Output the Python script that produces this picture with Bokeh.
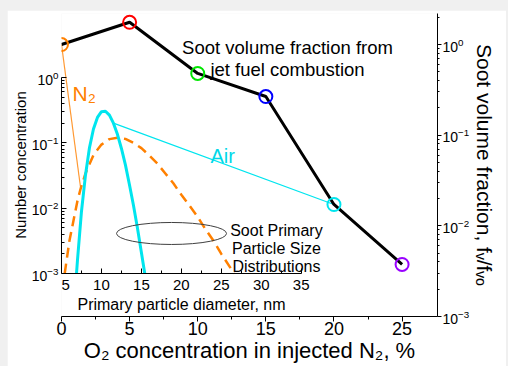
import math
from bokeh.plotting import figure
from bokeh.models import (Range1d, LogScale, LinearAxis, LogAxis, FixedTicker,
                          LogTickFormatter)
from bokeh.layouts import column
from bokeh.core.properties import value
from bokeh.embed import file_html
from bokeh.resources import INLINE

FONT = "Liberation Sans"

# ---- main series: soot volume fraction vs O2 concentration ----
o2_pct = [0, 5, 10, 15, 20, 25]
fv_ratio = [1.0, 1.76, 0.48, 0.267, 0.0172, 0.00375]
point_colors = ["#ff8000", "#ff0000", "#00e600", "#0000ff", "#00e5ee", "#9900ff"]

# ---- inset series: primary particle size distributions ----
air_d = [6.88, 7.0, 7.5, 8.0, 8.5, 9.0, 9.5, 10.0, 10.5, 11.0, 11.5, 12.0,
         12.5, 13.0, 13.5, 14.0, 14.5, 15.0, 15.42]
air_n = [0.001, 0.0016, 0.0089, 0.032, 0.084, 0.163, 0.245, 0.30, 0.305, 0.265,
         0.20, 0.135, 0.082, 0.046, 0.023, 0.0112, 0.0050, 0.0021, 0.001]
n2_d = [5.4, 6, 7, 7.4, 8, 9, 10, 11, 12, 13, 14, 15, 16, 17, 18, 19, 20, 21,
        22, 23, 24, 25, 26, 26.6]
n2_n = [0.001, 0.0032, 0.013, 0.020, 0.034, 0.065, 0.094, 0.114, 0.120, 0.115,
        0.100, 0.083, 0.064, 0.048, 0.034, 0.024, 0.016, 0.011, 0.0075, 0.0048,
        0.0032, 0.0020, 0.0013, 0.001]

# ---- ticks ----
main_x_ticks = [0, 5, 10, 15, 20, 25]
main_x_minor = [2.5, 7.5, 12.5, 17.5, 22.5]
decades = [1e-3, 1e-2, 1e-1, 1e0]
inset_x_ticks = [5, 10, 15, 20, 25, 30, 35]
inset_x_minor = [7.5, 12.5, 17.5, 22.5, 27.5, 32.5]

# ---- ranges (main frame and the inset mapped onto the same frame) ----
MX = (0.0, 27.6)
MY = (1e-3, 2.2)
IX = (5.0, 52.06)
IY = (10 ** -3.658, 10 ** 0.9796)


def inset_to_main(xi, yi):
    fx = (xi - IX[0]) / (IX[1] - IX[0])
    ly0, ly1 = math.log10(IY[0]), math.log10(IY[1])
    fy = (math.log10(yi) - ly0) / (ly1 - ly0)
    my0, my1 = math.log10(MY[0]), math.log10(MY[1])
    return MX[0] + fx * (MX[1] - MX[0]), 10 ** (my0 + fy * (my1 - my0))


p = figure(width=499, height=356, output_backend="svg", toolbar_location=None,
           x_range=Range1d(*MX), y_range=Range1d(*MY), y_axis_type="log",
           x_axis_location=None, y_axis_location=None,
           min_border_left=54, min_border_right=69, min_border_top=3,
           min_border_bottom=50)
p.margin = (10, 2, 0, 7)
p.grid.grid_line_color = None
p.outline_line_color = None
p.background_fill_color = "white"
p.border_fill_color = "white"

p.extra_x_ranges = {"ix": Range1d(*IX)}
p.extra_y_ranges = {"iy": Range1d(*IY)}
p.extra_y_scales = {"iy": LogScale()}


def log_minors(lo, hi):
    out = []
    for k in range(-4, 2):
        for m in range(2, 10):
            v = m * 10 ** k
            if lo < v < hi:
                out.append(v)
    return out


def style_axis(ax, tick_size, label_size):
    ax.axis_line_color = "black"
    ax.major_tick_line_color = "black"
    ax.minor_tick_line_color = "black"
    ax.major_label_text_font = FONT
    ax.major_label_text_font_size = tick_size
    ax.major_label_text_color = "black"
    ax.axis_label_text_font = FONT
    ax.axis_label_text_font_size = label_size
    ax.axis_label_text_font_style = "normal"
    ax.axis_label_text_color = "black"


# main x axis (bottom panel)
ax_main_x = LinearAxis(ticker=FixedTicker(ticks=main_x_ticks, minor_ticks=main_x_minor),
                       axis_label="O\u2082 concentration in injected N\u2082, %")
style_axis(ax_main_x, "18px", "22px")
ax_main_x.major_tick_out = 5
ax_main_x.major_tick_in = 0
ax_main_x.minor_tick_out = 3
ax_main_x.minor_tick_in = 0
ax_main_x.major_label_standoff = 0
ax_main_x.axis_label_standoff = 0
p.add_layout(ax_main_x, "below")

# main right axis
ax_main_y = LogAxis(ticker=FixedTicker(ticks=decades, minor_ticks=log_minors(*MY)),
                    formatter=LogTickFormatter(),
                    axis_label="Soot volume fraction, f\u1d65/f\u1d65\u2092")
style_axis(ax_main_y, "14px", "21px")
ax_main_y.major_tick_out = 4
ax_main_y.major_tick_in = 0
ax_main_y.minor_tick_out = 2
ax_main_y.minor_tick_in = 0
ax_main_y.major_label_standoff = 1
ax_main_y.axis_label_standoff = 1
p.add_layout(ax_main_y, "right")

# inset left axis (left panel, sits on the frame's left edge)
ax_in_y = LogAxis(x_range_name="ix", y_range_name="iy",
                  ticker=FixedTicker(ticks=decades, minor_ticks=log_minors(1e-3, 1.0)),
                  formatter=LogTickFormatter(), axis_label="Number concentration",
                  bounds=(1e-3, 1.0))
style_axis(ax_in_y, "14px", "15px")
ax_in_y.major_tick_in = 5
ax_in_y.major_tick_out = 0
ax_in_y.minor_tick_in = 3
ax_in_y.minor_tick_out = 0
ax_in_y.major_label_standoff = 3
ax_in_y.axis_label_standoff = 0
p.add_layout(ax_in_y, "left")

# inset bottom axis (inside the frame)
ax_in_x = LinearAxis(x_range_name="ix", y_range_name="iy",
                     ticker=FixedTicker(ticks=inset_x_ticks, minor_ticks=inset_x_minor),
                     axis_label="Primary particle diameter, nm",
                     fixed_location=1e-3, bounds=(5, 35),
                     major_label_overrides={5: "\u20075"})
style_axis(ax_in_x, "15px", "16px")
ax_in_x.major_tick_in = 5
ax_in_x.major_tick_out = 0
ax_in_x.minor_tick_in = 3
ax_in_x.minor_tick_out = 0
ax_in_x.major_label_standoff = 2
ax_in_x.axis_label_standoff = 0
p.add_layout(ax_in_x, "below")

# connector lines between the two panels
n2_link_end = inset_to_main(n2_d[3], n2_n[3])
air_link_start = inset_to_main(air_d[10], air_n[10])
p.segment(x0=[o2_pct[0]], y0=[fv_ratio[0]], x1=[n2_link_end[0]], y1=[n2_link_end[1]],
          line_color="#ff9933", line_width=1.2)
p.segment(x0=[air_link_start[0]], y0=[air_link_start[1]], x1=[o2_pct[4]], y1=[fv_ratio[4]],
          line_color="#00e5ee", line_width=1.2)

# inset curves
p.line(n2_d, n2_n, x_range_name="ix", y_range_name="iy", line_color="#ff8000",
       line_width=2.5, line_dash="10 6")
p.line(air_d, air_n, x_range_name="ix", y_range_name="iy", line_color="#00e5ee",
       line_width=3)

# ellipse around the size-distribution label
p.ellipse(x=[18.77], y=[0.0041], width=110, height=22, width_units="screen",
          height_units="screen", fill_color=None, line_color="#404040", line_width=1,
          x_range_name="ix", y_range_name="iy")

# main series
p.line(o2_pct, fv_ratio, line_color="black", line_width=3)
p.scatter(o2_pct, fv_ratio, size=13, marker="circle", fill_color="white", fill_alpha=0,
          line_color=point_colors, line_width=2)

# texts
p.text(x=[16.59, 16.59], y=[0.938, 0.537],
       text=["Soot volume fraction from", "jet fuel combustion"],
       text_font=value(FONT), text_font_size="18.5px", text_align="center",
       text_baseline="alphabetic", text_color="black")
p.text(x=[6.38], y=[0.569], text=["N\u2082"], text_font=value(FONT),
       text_font_size="21px", text_align="left", text_baseline="alphabetic",
       text_color="#ff8000", x_range_name="ix", y_range_name="iy")
p.text(x=[23.65], y=[0.064], text=["Air"], text_font=value(FONT),
       text_font_size="20px", text_align="left", text_baseline="alphabetic",
       text_color="#00d8e8", x_range_name="ix", y_range_name="iy")
p.text(x=[31.9, 31.9, 31.9], y=[0.0046, 0.00241, 0.00128],
       text=["Soot Primary", "Particle Size", "Distributions"], text_font=value(FONT),
       text_font_size="16px", text_align="center", text_baseline="alphabetic",
       text_color="black", x_range_name="ix", y_range_name="iy")

layout = column(p, styles={"background-color": "#f0f0f0"})
open("out.html", "w").write(file_html(layout, INLINE))
